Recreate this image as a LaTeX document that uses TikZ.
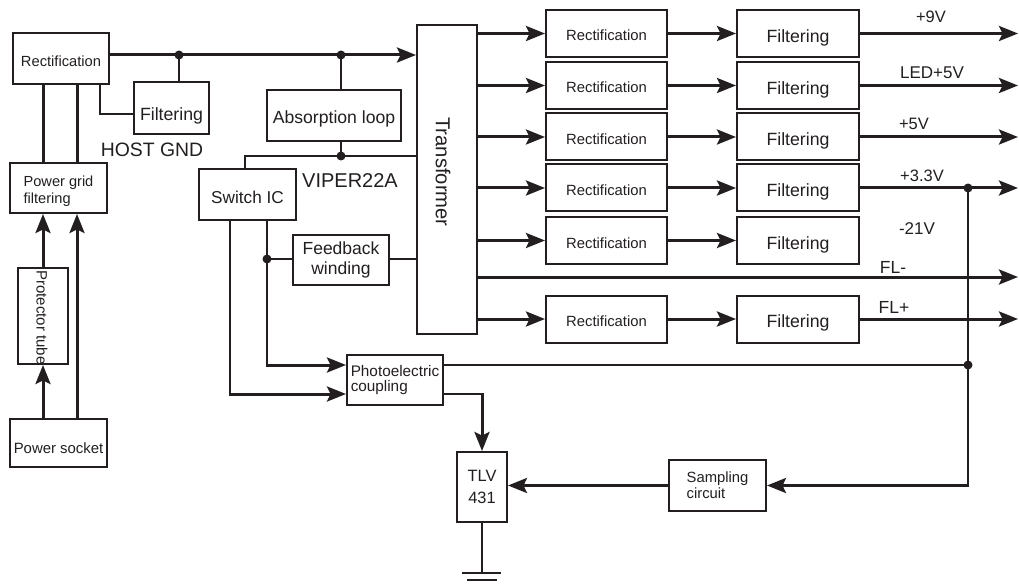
\documentclass[tikz,border=0pt]{standalone}
\usepackage{fontspec}
\setmainfont{Liberation Sans}
\usetikzlibrary{arrows.meta,calc}
\definecolor{ink}{RGB}{35,31,32}
\newcommand{\myfs}[2]{\fontsize{#1pt}{#2pt}\selectfont}
\begin{document}
\begin{tikzpicture}[x=1pt,y=-1pt,
  every node/.style={text=ink},
  box/.style={draw=ink, line width=2pt, inner sep=0pt, rectangle},
  thk/.style={draw=ink, line width=3pt},
  thn/.style={draw=ink, line width=1.8pt},
  arr/.style={-{Stealth[length=19pt,width=15pt,inset=3.5pt]}},
  dot/.style={circle, fill=ink, inner sep=0pt, minimum size=9pt},
  rbox/.style={box, minimum width=121pt, minimum height=47pt, font=\myfs{14.8}{17}, text height=15pt, text depth=0pt},
  fbox/.style={box, minimum width=122pt, minimum height=47pt, font=\myfs{17.7}{20}, text height=17.6pt, text depth=0pt},
  lbl/.style={font=\myfs{16.5}{19}, inner sep=0pt}]
\useasboundingbox (0,0) rectangle (1019,585);
\fill[white] (0,0) rectangle (1019,585);

% ---- left part ----
\node[box, minimum width=96pt, minimum height=51pt, font=\myfs{14.7}{17}, text height=17pt, text depth=0pt] (rect0) at (61,58.5) {Rectification};
\node[box, minimum width=75pt, minimum height=52pt, font=\myfs{17.7}{20}, text height=24.4pt, text depth=0pt] (filt0) at (171.5,108) {Filtering};
\node[font=\myfs{19.4}{22}, inner sep=0pt] (host) at (152,150) {HOST GND};
\node[box, minimum width=97pt, minimum height=50pt, font=\myfs{14.6}{16.5}, align=left, inner ysep=0pt] (pgf) at (58.5,188) {\rule{0pt}{17pt}Power grid\\filtering};
\node[box, minimum width=50pt, minimum height=96pt] (prot) at (43,316) {};
\node[rotate=-90, font=\myfs{15}{17}, inner sep=0pt] (protlbl) at (42,317.5) {Protector tube};
\node[box, minimum width=97pt, minimum height=48pt, font=\myfs{14.9}{17}, text height=20pt, text depth=0pt] (sock) at (58.5,443) {Power socket};

\node[box, minimum width=134pt, minimum height=51pt, font=\myfs{17.6}{20}, text height=15.6pt, text depth=0pt] (absorb) at (334,115.5) {Absorption loop};
\node[box, minimum width=97pt, minimum height=51pt, font=\myfs{17.2}{20}, text height=17.6pt, text depth=0pt] (switch) at (247.5,194.5) {Switch IC};
\node[font=\myfs{20}{22}, inner sep=0pt] (viper) at (350,181) {VIPER22A};
\node[box, minimum width=60pt, minimum height=309pt] (trans) at (447,179.5) {};
\node[rotate=-90, font=\myfs{20.2}{22}, inner sep=0pt] (translbl) at (443,172) {Transformer};
\node[box, minimum width=96pt, minimum height=50pt, font=\myfs{17.5}{20}, align=center] (fb) at (341,260) {Feedback\\winding};
\node[box, minimum width=96pt, minimum height=50pt, font=\myfs{15.3}{15.5}, align=left] (photo) at (395,380) {Photoelectric\\coupling};
\node[box, minimum width=50pt, minimum height=70pt, font=\myfs{16.4}{21.3}, align=center] (tlv) at (482,487) {TLV\\431};
\node[box, minimum width=97pt, minimum height=51pt, font=\myfs{14.8}{16.4}, align=left] (samp) at (717.5,485.5) {Sampling\\circuit};

% ---- junctions ----
\node[dot] (j1) at (179,55) {};
\node[dot] (j2) at (341,55) {};
\node[dot] (j3) at (341,156) {};
\node[dot] (j6) at (267,259) {};
\node[dot] (j4) at (968,188) {};
\node[dot] (j5) at (968,365) {};

% ---- right part ----
\foreach \i/\y in {1/33.5,2/85.5,3/137,4/188,5/240.5,7/319} {
  \node[rbox] (r\i) at (606.5,\y) {Rectification};
  \node[fbox] (f\i) at (798,\y) {Filtering};
}
\node[lbl] (l9) at (931,17) {+9V};
\node[lbl, font=\myfs{17}{19}] (lled) at (932,73) {LED+5V};
\node[lbl] (l5) at (914,124) {+5V};
\node[lbl] (l33) at (922,176) {+3.3V};
\node[lbl, font=\myfs{17}{19}] (l21) at (917,229) {-21V};
\node[lbl, font=\myfs{17.5}{19}] (lflm) at (893,267) {FL-};
\node[lbl, font=\myfs{17.5}{19}] (lflp) at (894,307) {FL+};

\coordinate (oend) at (1018,0);
\coordinate (flm) at (1018,277);

% ---- connectors: left ----
\draw[thk,arr] (rect0.east |- j1) -- (trans.west |- j1);
\draw[thn] (j1.center) -- (j1.center |- filt0.north);
\coordinate (r0b) at ($(rect0.south)+(39,0)$);
\coordinate (f0in) at ($(filt0.west)+(0,6)$);
\draw[thn] (r0b) |- (f0in);
\coordinate (r0l) at ($(rect0.south)+(-18,0)$);
\coordinate (r0r) at ($(rect0.south)+(16,0)$);
\draw[thk] (r0l) -- (r0l |- pgf.north);
\draw[thk] (r0r) -- (r0r |- pgf.north);
\draw[thk,arr] (prot.north) -- (prot.north |- pgf.south);
\draw[thk,arr] (sock.north -| prot.south) -- (prot.south);
\draw[thk,arr] (sock.north -| r0r) -- (r0r |- pgf.south);

\draw[thn] (j2.center) -- (j2.center |- absorb.north);
\draw[thn] (j3.center |- absorb.south) -- (j3.center);
\coordinate (sw1) at ($(switch.north)+(-2.5,0)$);
\draw[thn] (trans.west |- j3) -- (sw1 |- j3) -- (sw1);

\coordinate (sw3) at ($(switch.south)+(19.5,0)$);
\draw[thn] (sw3) -- (j6.center);
\draw[thn] (j6.center) -- (fb.west |- j6);
\draw[thn] (fb.east |- j6) -- (trans.west |- j6);
\coordinate (pin1) at ($(photo.west)+(0,-15)$);
\coordinate (pin2) at ($(photo.west)+(0,14)$);
\draw[thn] (j6.center) -- (j6.center |- pin1);
\draw[thk,arr] ([xshift=-0.9pt]j6.center |- pin1) -- (pin1);
\coordinate (sw2) at ($(switch.south)+(-17.5,0)$);
\draw[thn] (sw2) -- (sw2 |- pin2);
\draw[thk,arr] ([xshift=-0.9pt]sw2 |- pin2) -- (pin2);

\coordinate (pout1) at ($(photo.east)+(0,-15)$);
\coordinate (pout2) at ($(photo.east)+(0,14)$);
\draw[thn] (pout1) -- (j5.center);
\draw[thn] (pout2) -- (pout2 -| tlv.north);
\draw[thk,arr] ([yshift=0.9pt]pout2 -| tlv.north) -- (tlv.north);

\draw[thn] (j4.center) -- (j5.center) -- (j5.center |- samp.east);
\draw[thk,arr] ([xshift=0.9pt]j5.center |- samp.east) -- (samp.east);
\draw[thk,arr] (samp.west) -- (samp.west -| tlv.east);

\coordinate (gnd) at ($(tlv.south)+(0,50)$);
\draw[thn] (tlv.south) -- (gnd);
\draw[thn] ($(gnd)+(-20,0)$) -- ($(gnd)+(19,0)$);
\draw[thn] ($(gnd)+(-15,7)$) -- ($(gnd)+(15,7)$);

% ---- connectors: right ----
\foreach \i in {1,2,3,4,5,7} {
  \draw[thk,arr] (trans.east |- r\i.west) -- (r\i.west);
  \draw[thk,arr] (r\i.east) -- (f\i.west);
}
\foreach \i in {1,2,3,4,7} {
  \draw[thk,arr] (f\i.east) -- (f\i.east -| oend);
}
\draw[thk,arr] (trans.east |- flm) -- (flm);
\end{tikzpicture}
\end{document}
